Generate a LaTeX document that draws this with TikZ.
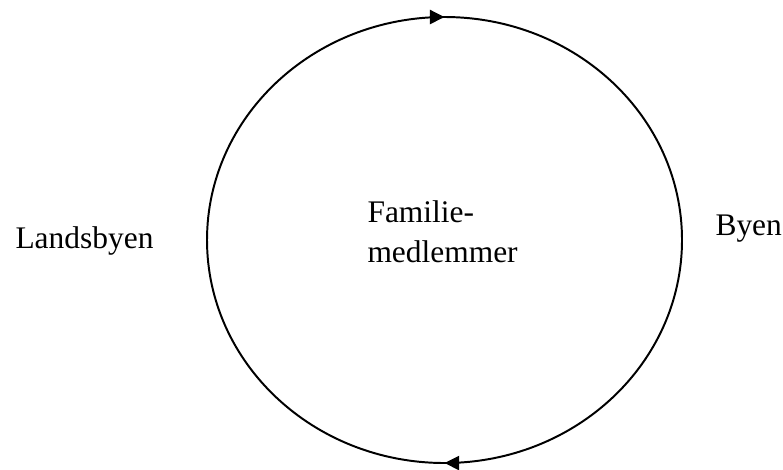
\documentclass[tikz,border=0pt]{standalone}
\usepackage{fontspec}
\setmainfont{Liberation Serif}
\usepackage{tikz}
\usetikzlibrary{arrows.meta, decorations.markings}

\begin{document}
\begin{tikzpicture}[
    x=0.3817pt, y=-0.3817pt,
    lbl/.style={inner sep=0pt, anchor=base west, font=\fontsize{12}{14.9}\selectfont},
    ring/.style={line width=0.75pt, postaction={decorate}, decoration={markings,
        mark=at position 0.25 with {\arrow{Triangle[length=5.6pt, width=5.4pt]}},
        mark=at position 0.75 with {\arrow{Triangle[length=5.6pt, width=5.4pt]}}}}
]
\useasboundingbox (0,0) rectangle (783,469);

% Centre of the cycle
\coordinate (mid) at (444.5,240);

% Cycle, drawn clockwise (y axis points down)
\draw[ring] (mid) ++(-237.5,0) arc[start angle=180, end angle=540, x radius=237.5, y radius=223];

% Labels
\node[lbl, align=left] (family) at (367,262) {Familie-\\medlemmer};
\node[lbl] (village) at (15,248) {Landsbyen};
\node[lbl] (town) at (715,235) {Byen};

\end{tikzpicture}
\end{document}
